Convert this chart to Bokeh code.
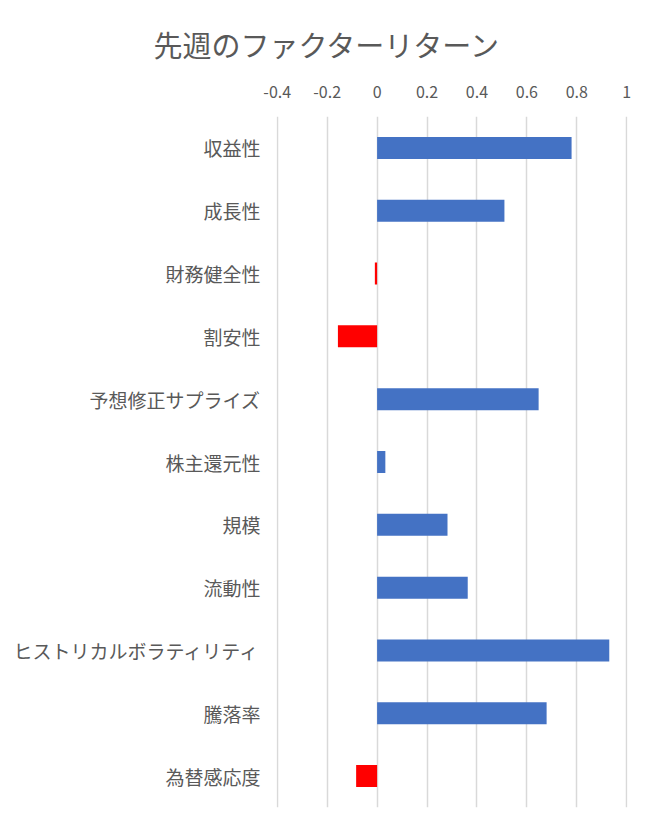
from bokeh.plotting import figure
from bokeh.models import FactorRange, Range1d, FixedTicker, ColumnDataSource
from bokeh.embed import file_html
from bokeh.resources import INLINE

title_text = "先週のファクターリターン"
categories = ["収益性", "成長性", "財務健全性", "割安性", "予想修正サプライズ", "株主還元性",
              "規模", "流動性", "ヒストリカルボラティリティ", "騰落率", "為替感応度"]
returns = [0.779, 0.51, -0.009, -0.157, 0.647, 0.033, 0.282, 0.363, 0.93, 0.679, -0.084]
tick_values = [-0.4, -0.2, 0, 0.2, 0.4, 0.6, 0.8, 1.0]
tick_labels = ["-0.4", "-0.2", "0", "0.2", "0.4", "0.6", "0.8", "1"]

POS = "#4472C4"
NEG = "#FF0000"
FONT = "Noto Sans CJK JP"
TXT = "#595959"

src = ColumnDataSource(dict(
    cat=categories,
    val=returns,
    color=[POS if v >= 0 else NEG for v in returns],
))

p = figure(
    width=639, height=815,
    y_range=FactorRange(factors=list(reversed(categories)), range_padding=0),
    x_range=Range1d(tick_values[0] - 0.003, tick_values[-1] + 0.003),
    x_axis_location="above",
    output_backend="svg", toolbar_location=None,
    min_border_left=276, min_border_right=12, min_border_top=116, min_border_bottom=8,
)

p.hbar(y="cat", left=0, right="val", height=0.35, color="color", line_color=None, source=src)

p.title.text = title_text
p.title.align = "left"
p.title.offset = -123
p.title.text_font = FONT
p.title.text_font_size = "29px"
p.title.text_font_style = "normal"
p.title.text_color = TXT
p.title.standoff = 36

p.outline_line_color = None
p.ygrid.grid_line_color = None
p.xgrid.grid_line_color = "#D9D9D9"
p.xgrid.grid_line_width = 1.5
p.xgrid.ticker = FixedTicker(ticks=tick_values)

xa = p.xaxis[0]
xa.ticker = FixedTicker(ticks=tick_values)
xa.major_label_overrides = dict(zip(tick_values, tick_labels))
xa.axis_line_color = None
xa.major_tick_line_color = None
xa.minor_tick_line_color = None
xa.major_label_text_font = FONT
xa.major_label_text_font_size = "16px"
xa.major_label_text_color = TXT
xa.major_label_standoff = 13

ya = p.yaxis[0]
ya.axis_line_color = None
ya.major_tick_line_color = None
ya.minor_tick_line_color = None
ya.major_label_text_font = FONT
ya.major_label_text_font_size = "19px"
ya.major_label_text_color = TXT
ya.major_label_standoff = 10

open("out.html", "w").write(file_html(p, INLINE))
